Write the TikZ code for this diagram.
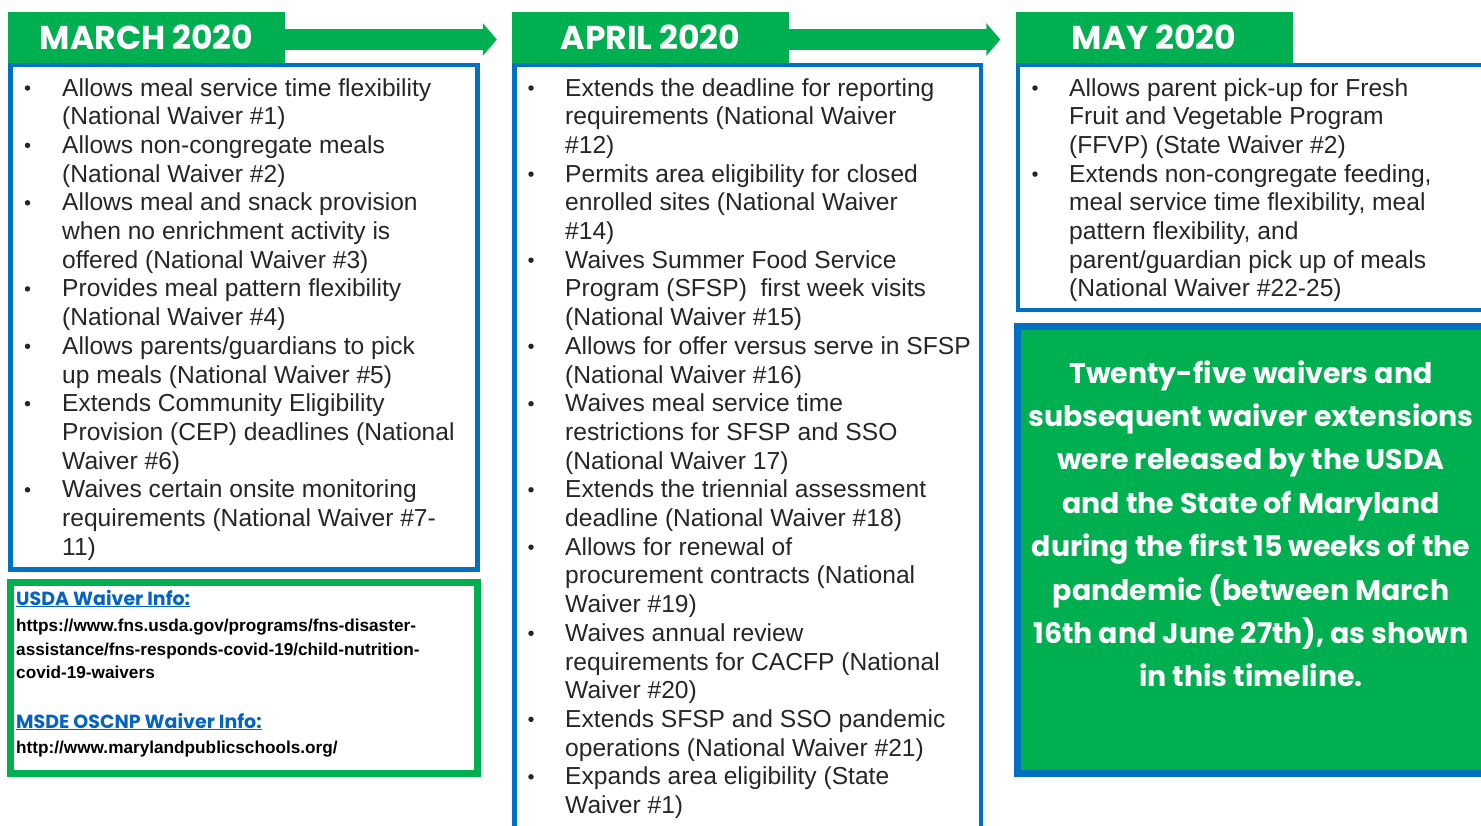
\documentclass[tikz,border=0pt]{standalone}
\usepackage{fontspec}
\setmainfont{Liberation Sans}
\newfontfamily\headfont{Poppins}
\usetikzlibrary{arrows.meta,positioning,calc}

\definecolor{wgreen}{HTML}{00B050}
\definecolor{wblue}{HTML}{0070C0}
\definecolor{wlink}{HTML}{0563C1}
\definecolor{wtext}{HTML}{262626}

\begin{document}
\begin{tikzpicture}[x=1pt,y=-1pt,>=Latex,
  month/.style={fill=wgreen,text=white,minimum width=277pt,minimum height=51pt,
    inner sep=0pt,font=\headfont\bfseries\fontsize{33}{33}\selectfont},
  arr/.style={wgreen,line width=21.5pt,-{Triangle[length=14pt,width=32pt]},shorten >=15pt},
  panel/.style={wblue,line width=4.5pt},
  item/.style={anchor=base west,inner sep=0pt,text=wtext,
    font=\fontsize{24.6}{28.7}\selectfont},
  dot/.style={circle,fill=wtext,inner sep=0pt,minimum size=5.5pt},
  link/.style={anchor=base west,inner sep=0pt,text=wlink,
    font=\headfont\bfseries\fontsize{19}{19}\selectfont},
  url/.style={anchor=base west,inner sep=0pt,text=black,
    font=\bfseries\fontsize{17.2}{17.2}\selectfont},
  big/.style={anchor=base,inner sep=0pt,text=white,
    font=\headfont\bfseries\fontsize{28.4}{28.4}\selectfont}]
  \useasboundingbox (0,0) rectangle (1481,825);

  % panels
  \draw[panel] (10.5,65) rectangle (477.5,569.5);
  \draw[panel] (514.5,840) -- (514.5,65) -- (981,65) -- (981,840);
  \draw[panel] (1490,310) -- (1018,310) -- (1018,65) -- (1490,65);
  \draw[wgreen,line width=7pt] (10.5,582.5) rectangle (477.5,773.5);
  \draw[wblue,line width=7pt,fill=wgreen] (1017.5,326.5) rectangle (1488,773.5);

  % month headers
  \node[month] (mar) at (146.5,37.5) {MARCH 2020};
  \node[month] (apr) at (650.5,37.5) {APRIL 2020};
  \node[month] (may) at (1154,37.5) {MAY 2020};
  \draw[arr] ($(mar.east)+(0,2)$) -- ($(apr.west)+(0,2)$);
  \draw[arr] ($(apr.east)+(0,2)$) -- ($(may.west)+(0,2)$);

  % march
  \foreach \l [count=\i] in {0,2,4,7,9,11,14}
    \node[dot] (mb\i) at (27.5,{88+28.7*\l}) {};
  \foreach \t [count=\i from 0] in {
    {Allows meal service time flexibility},
    {(National Waiver \#1)},
    {Allows non-congregate meals},
    {(National Waiver \#2)},
    {Allows meal and snack provision},
    {when no enrichment activity is},
    {offered (National Waiver \#3)},
    {Provides meal pattern flexibility},
    {(National Waiver \#4)},
    {Allows parents/guardians to pick},
    {up meals (National Waiver \#5)},
    {Extends Community Eligibility},
    {Provision (CEP) deadlines (National},
    {Waiver \#6)},
    {Waives certain onsite monitoring},
    {requirements (National Waiver \#7-},
    {11)}}
    \node[item] (m\i) at (62,{96+28.7*\i}) {\t};

  % april
  \foreach \l [count=\i] in {0,3,6,9,11,14,16,19,22,24}
    \node[dot] (ab\i) at (531,{88+28.7*\l}) {};
  \foreach \t [count=\i from 0] in {
    {Extends the deadline for reporting},
    {requirements (National Waiver},
    {\#12)},
    {Permits area eligibility for closed},
    {enrolled sites (National Waiver},
    {\#14)},
    {Waives Summer Food Service},
    {Program (SFSP)\ \ first week visits},
    {(National Waiver \#15)},
    {Allows for offer versus serve in SFSP},
    {(National Waiver \#16)},
    {Waives meal service time},
    {restrictions for SFSP and SSO},
    {(National Waiver 17)},
    {Extends the triennial assessment},
    {deadline (National Waiver \#18)},
    {Allows for renewal of},
    {procurement contracts (National},
    {Waiver \#19)},
    {Waives annual review},
    {requirements for CACFP (National},
    {Waiver \#20)},
    {Extends SFSP and SSO pandemic},
    {operations (National Waiver \#21)},
    {Expands area eligibility (State},
    {Waiver \#1)}}
    \node[item] (a\i) at (565,{96+28.7*\i}) {\t};

  % may
  \foreach \l [count=\i] in {0,3}
    \node[dot] (yb\i) at (1035,{88+28.7*\l}) {};
  \foreach \t [count=\i from 0] in {
    {Allows parent pick-up for Fresh},
    {Fruit and Vegetable Program},
    {(FFVP) (State Waiver \#2)},
    {Extends non-congregate feeding,},
    {meal service time flexibility, meal},
    {pattern flexibility, and},
    {parent/guardian pick up of meals},
    {(National Waiver \#22-25)}}
    \node[item] (y\i) at (1069,{96+28.7*\i}) {\t};

  % links
  \node[link] (usda) at (16,605) {\underline{USDA Waiver Info:}};
  \node[url] (u1) at (16,631) {https://www.fns.usda.gov/programs/fns-disaster-};
  \node[url] (u2) at (16,655) {assistance/fns-responds-covid-19/child-nutrition-};
  \node[url] (u3) at (16,678) {covid-19-waivers};
  \node[link] (msde) at (16,728) {\underline{MSDE OSCNP Waiver Info:}};
  \node[url] (u4) at (16,753) {http://www.marylandpublicschools.org/};

  % summary
  \foreach \t [count=\i from 0] in {
    {Twenty-five waivers and},
    {subsequent waiver extensions},
    {were released by the USDA},
    {and the State of Maryland},
    {during the first 15 weeks of the},
    {pandemic (between March},
    {16th and June 27th), as shown},
    {in this timeline.}}
    \node[big] (n\i) at (1251,{383+43.4*\i}) {\t};
\end{tikzpicture}
\end{document}
